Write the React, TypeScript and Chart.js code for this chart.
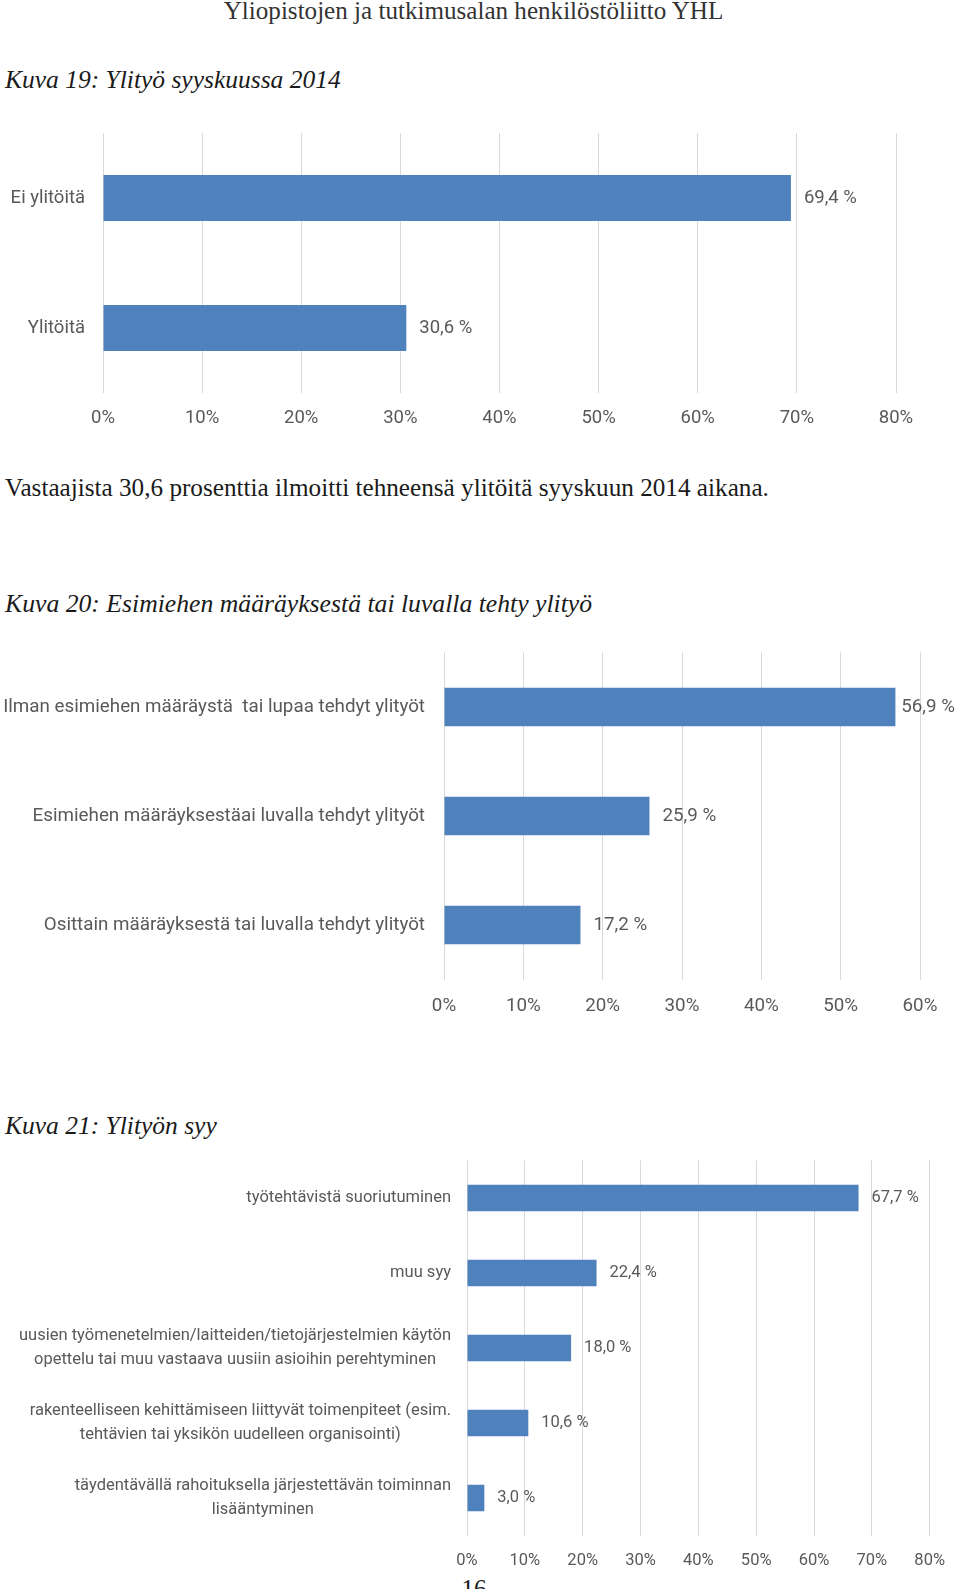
import React, { useEffect, useRef } from 'react';
import { Chart, registerables } from 'chart.js';

Chart.register(...registerables);

// Kuva 19
const fig19Categories = [['Ei ylitöitä'], ['Ylitöitä']];
const fig19Values = [69.4, 30.6];
const fig19Ticks = [0, 10, 20, 30, 40, 50, 60, 70, 80];

// Kuva 20
const fig20Categories = [
  ['Ilman esimiehen määräystä  tai lupaa tehdyt ylityöt'],
  ['Esimiehen määräyksestäai luvalla tehdyt ylityöt'],
  ['Osittain määräyksestä tai luvalla tehdyt ylityöt'],
];
const fig20Values = [56.9, 25.9, 17.2];
const fig20Ticks = [0, 10, 20, 30, 40, 50, 60];

// Kuva 21
const fig21Categories = [
  ['työtehtävistä suoriutuminen'],
  ['muu syy'],
  ['uusien työmenetelmien/laitteiden/tietojärjestelmien käytön', 'opettelu tai muu vastaava uusiin asioihin perehtyminen'],
  ['rakenteelliseen kehittämiseen liittyvät toimenpiteet (esim.', 'tehtävien tai yksikön uudelleen organisointi)'],
  ['täydentävällä rahoituksella järjestettävän toiminnan', 'lisääntyminen'],
];
const fig21Values = [67.7, 22.4, 18.0, 10.6, 3.0];
const fig21Ticks = [0, 10, 20, 30, 40, 50, 60, 70, 80];

const BAR_COLOR = '#4f81bd';
const TEXT_GRAY = '#595959';
const GRID_GRAY = '#d9d9d9';
const CHART_FONT = 'Roboto';

const fmtValue = (v: number) => v.toFixed(1).replace('.', ',') + ' %';

interface HBarProps {
  categories: string[][];
  values: number[];
  ticks: number[];
  top: number;
  height: number;
  plotLeft: number;
  plotRight: number;
  plotTop: number;
  plotBottom: number;
  fontSize: number;
  labelGap: number;
  lineHeight: number;
  tickPad: number;
  valueLimit: number;
}

const HBar: React.FC<HBarProps> = (p) => {
  const canvasRef = useRef<HTMLCanvasElement>(null);

  useEffect(() => {
    if (!canvasRef.current) return;
    const font = `${p.fontSize}px ${CHART_FONT}`;

    // category names (right-aligned block, lines centred inside it, like Excel) and value labels
    const textPlugin = {
      id: 'barTexts',
      afterDatasetsDraw(chart: any) {
        const { ctx, chartArea, scales } = chart;
        ctx.save();
        ctx.font = font;
        ctx.fillStyle = TEXT_GRAY;
        ctx.textBaseline = 'middle';

        ctx.textAlign = 'center';
        p.categories.forEach((lines, i) => {
          const y = scales.y.getPixelForTick(i);
          const w = Math.max(...lines.map((l) => ctx.measureText(l).width));
          const cx = chartArea.left - p.labelGap - w / 2;
          lines.forEach((l, j) => {
            ctx.fillText(l, cx, y + (j - (lines.length - 1) / 2) * p.lineHeight);
          });
        });

        ctx.textAlign = 'left';
        const meta = chart.getDatasetMeta(0);
        meta.data.forEach((bar: any, i: number) => {
          const txt = fmtValue(p.values[i]);
          const w = ctx.measureText(txt).width;
          let x = bar.x + 13;
          if (x + w > p.valueLimit) x = p.valueLimit - w;
          ctx.fillText(txt, x, bar.y);
        });
        ctx.restore();
      },
    };

    const xHeight = p.height - (p.plotBottom - p.top);

    const chart = new Chart(canvasRef.current, {
      type: 'bar',
      data: {
        labels: p.categories.map((c) => c.join(' ')),
        datasets: [{
          data: p.values,
          backgroundColor: BAR_COLOR,
          borderWidth: 0,
          categoryPercentage: 1,
          barPercentage: 0.352,
        }],
      },
      options: {
        indexAxis: 'y',
        animation: false,
        responsive: false,
        maintainAspectRatio: false,
        layout: {
          padding: { top: p.plotTop - p.top, right: 960 - p.plotRight, left: 0, bottom: 0 },
        },
        plugins: { legend: { display: false }, tooltip: { enabled: false } },
        scales: {
          x: {
            type: 'linear',
            min: p.ticks[0],
            max: p.ticks[p.ticks.length - 1],
            afterBuildTicks: (s: any) => { s.ticks = p.ticks.map((v) => ({ value: v })); },
            afterFit: (s: any) => { s.height = xHeight; },
            grid: { color: GRID_GRAY, lineWidth: 1, drawTicks: false },
            border: { display: false },
            ticks: {
              color: TEXT_GRAY,
              font: { family: CHART_FONT, size: p.fontSize },
              padding: p.tickPad,
              maxRotation: 0,
              autoSkip: false,
              callback: (v: any) => `${v}%`,
            },
          },
          y: {
            type: 'category',
            afterFit: (s: any) => { s.width = p.plotLeft; },
            grid: { display: false },
            border: { display: false },
            ticks: { display: false },
          },
        },
      },
      plugins: [textPlugin],
    });

    return () => chart.destroy();
  }, []);

  return (
    <canvas
      ref={canvasRef}
      width={960}
      height={p.height}
      style={{ position: 'absolute', left: 0, top: p.top, width: 960, height: p.height }}
    />
  );
};

const serif = "'Liberation Serif', 'Times New Roman', serif";

const textStyle = (top: number, italic = false): React.CSSProperties => ({
  position: 'absolute',
  left: 5,
  top,
  margin: 0,
  fontFamily: serif,
  fontSize: 25.5,
  lineHeight: '25px',
  fontStyle: italic ? 'italic' : 'normal',
  color: '#1a1a1a',
  whiteSpace: 'nowrap',
});

export default function App() {
  return (
    <div style={{ position: 'absolute', left: 0, top: 0, width: 960, height: 1589, overflow: 'hidden', background: '#fff' }}>
      <div style={{ ...textStyle(-2), left: 0, width: 947, textAlign: 'center', fontSize: 25.1, color: '#333' }}>
        Yliopistojen ja tutkimusalan henkilöstöliitto YHL
      </div>

      <div style={textStyle(67, true)}>Kuva 19: Ylityö syyskuussa 2014</div>
      <HBar
        categories={fig19Categories}
        values={fig19Values}
        ticks={fig19Ticks}
        top={120}
        height={320}
        plotLeft={103}
        plotRight={896}
        plotTop={133}
        plotBottom={393}
        fontSize={18.5}
        labelGap={18}
        lineHeight={23}
        tickPad={14}
        valueLimit={955}
      />

      <div style={{ ...textStyle(475), fontSize: 25.2 }}>Vastaajista 30,6 prosenttia ilmoitti tehneensä ylitöitä syyskuun 2014 aikana.</div>

      <div style={{ ...textStyle(591, true), fontSize: 25.7 }}>Kuva 20: Esimiehen määräyksestä tai luvalla tehty ylityö</div>
      <HBar
        categories={fig20Categories}
        values={fig20Values}
        ticks={fig20Ticks}
        top={640}
        height={385}
        plotLeft={444}
        plotRight={920}
        plotTop={652.5}
        plotBottom={979.5}
        fontSize={18.8}
        labelGap={19}
        lineHeight={23}
        tickPad={16}
        valueLimit={955}
      />

      <div style={textStyle(1113, true)}>Kuva 21: Ylityön syy</div>
      <HBar
        categories={fig21Categories}
        values={fig21Values}
        ticks={fig21Ticks}
        top={1150}
        height={425}
        plotLeft={467}
        plotRight={936}
        plotTop={1160.5}
        plotBottom={1535.5}
        fontSize={16.5}
        labelGap={16}
        lineHeight={23.4}
        tickPad={15}
        valueLimit={955}
      />

      <div style={{ ...textStyle(1576), left: 0, width: 948, textAlign: 'center', fontSize: 25 }}>16</div>
    </div>
  );
}
